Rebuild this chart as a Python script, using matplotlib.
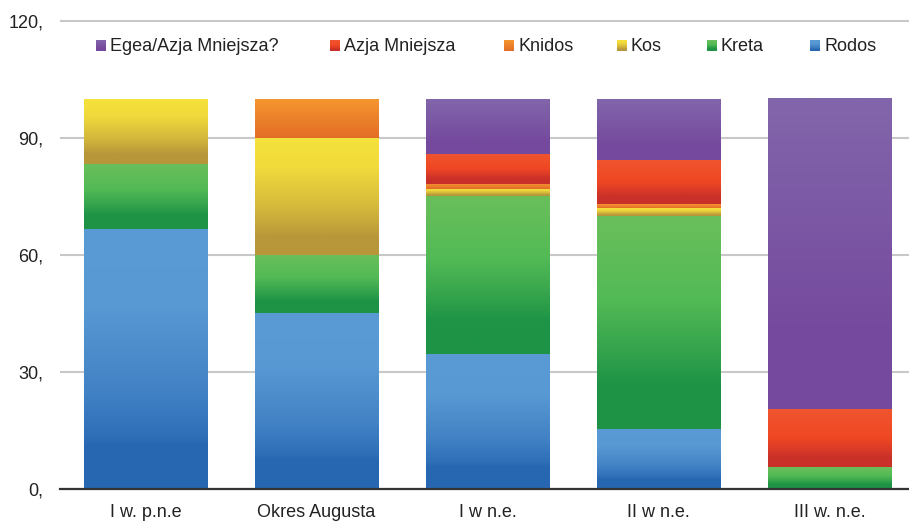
import numpy as np
import matplotlib
matplotlib.use("Agg")
import matplotlib.pyplot as plt
from matplotlib.colors import LinearSegmentedColormap

# ---- data ----
categories = ["I w. p.n.e", "Okres Augusta", "I w n.e.", "II w n.e.", "III w. n.e."]
series_names = ["Rodos", "Kreta", "Kos", "Knidos", "Azja Mniejsza", "Egea/Azja Mniejsza?"]
rodos = [66.7, 45.0, 34.6, 15.4, 0.0]
kreta = [16.7, 15.0, 40.5, 54.7, 5.6]
kos = [16.6, 30.0, 1.8, 2.0, 0.0]
knidos = [0.0, 10.0, 1.3, 1.0, 0.0]
azja = [0.0, 0.0, 7.8, 11.3, 14.8]
egea = [0.0, 0.0, 14.0, 15.4, 79.6]
yticks = [0, 30, 60, 90, 120]
ytick_labels = ["0,", "30,", "60,", "90,", "120,"]
legend_order = ["Egea/Azja Mniejsza?", "Azja Mniejsza", "Knidos", "Kos", "Kreta", "Rodos"]

# gradient stops (position from top -> colour)
grad = {
    "Rodos": [(0.0, "#5b9bd5"), (0.3, "#5898d3"), (0.6, "#4484c6"), (0.8, "#2f6fb8"),
              (0.83, "#2868b3"), (1.0, "#2767b2")],
    "Kreta": [(0.0, "#6abf5b"), (0.4, "#52ba55"), (0.8, "#1e9346"), (1.0, "#1e9346")],
    "Kos": [(0.0, "#f5e23b"), (0.25, "#f1da3c"), (0.6, "#d4b83b"), (0.85, "#b8963a"), (1.0, "#b8963a")],
    "Knidos": [(0.0, "#f4962f"), (1.0, "#e36d27")],
    "Azja Mniejsza": [(0.0, "#f0552f"), (0.5, "#ef4724"), (0.85, "#c93029"), (1.0, "#c93029")],
    "Egea/Azja Mniejsza?": [(0.0, "#8266ab"), (0.75, "#754a9e"), (1.0, "#754a9e")],
}

def make_cmap(name):
    stops = grad[name]
    # cmap value 0 = bottom, 1 = top
    pts = sorted([(1.0 - p, c) for p, c in stops])
    return LinearSegmentedColormap.from_list(name, pts)

cmaps = {n: make_cmap(n) for n in series_names}
values = {"Rodos": rodos, "Kreta": kreta, "Kos": kos, "Knidos": knidos,
          "Azja Mniejsza": azja, "Egea/Azja Mniejsza?": egea}

plt.rcParams["font.family"] = ["Liberation Sans", "DejaVu Sans"]
W, H = 909, 521
fig = plt.figure(figsize=(W / 100, H / 100), dpi=100)
ax_left, ax_right, ax_bottom, ax_top = 60, 60 + 171 * 5, 521 - 489, 521 - 17.1
ax = fig.add_axes([ax_left / W, ax_bottom / H, (ax_right - ax_left) / W, (ax_top - ax_bottom) / H])

x = np.arange(len(categories))
bottom = np.zeros(len(categories))
gcol = np.linspace(0, 1, 256).reshape(-1, 1)
for name in series_names:
    vals = np.array(values[name])
    bars = ax.bar(x, vals, 0.72, bottom=bottom, color="none", edgecolor="none", zorder=2)
    for rect in bars:
        h = rect.get_height()
        if h <= 0:
            continue
        x0, y0, w = rect.get_x(), rect.get_y(), rect.get_width()
        ax.imshow(gcol, cmap=cmaps[name], origin="lower", aspect="auto",
                  extent=[x0, x0 + w, y0, y0 + h], zorder=2, interpolation="bilinear")
    bottom += vals

ax.set_xlim(-0.5, len(categories) - 0.5)
ax.set_ylim(0, 121)
ax.set_yticks(yticks)
ax.set_yticklabels(ytick_labels)
ax.set_xticks(x)
ax.set_xticklabels(categories)
ax.tick_params(axis="both", length=0, labelsize=13, colors="#222222")
ax.tick_params(axis="y", pad=12)
ax.tick_params(axis="x", pad=11)
ax.set_axisbelow(True)
ax.grid(axis="y", color="#c8c8c8", linewidth=1.5)
for s in ["top", "right", "left"]:
    ax.spines[s].set_visible(False)
ax.spines["bottom"].set_color("#333333")
ax.spines["bottom"].set_linewidth(1.6)
ax.spines["bottom"].set_zorder(3)

# legend
leg_x = [96, 330, 504, 617, 707, 810]
for name, lx in zip(legend_order, leg_x):
    sq = fig.add_axes([lx / W, (521 - 51) / H, 10 / W, 11 / H])
    sq.imshow(gcol, cmap=cmaps[name], origin="lower", aspect="auto", interpolation="bilinear")
    sq.axis("off")
    fig.text((lx + 14) / W, (521 - 51) / H, name, fontsize=13, color="#222222",
             ha="left", va="baseline")

fig.savefig("out.png", dpi=100)
